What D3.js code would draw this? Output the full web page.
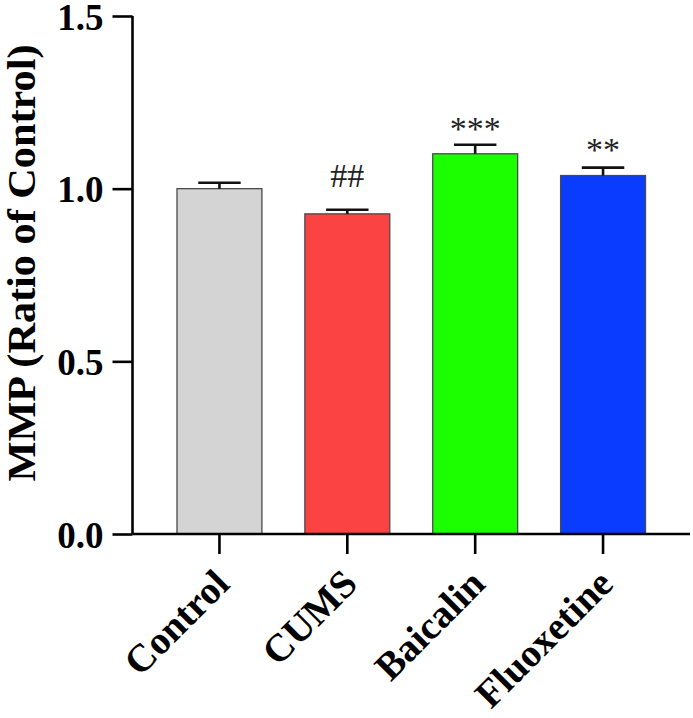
<!DOCTYPE html>
<html>
<head>
<meta charset="utf-8">
<script src="https://cdn.jsdelivr.net/npm/d3@7"></script>
<style>
  html, body { margin: 0; padding: 0; background: #fff; }
  svg { display: block; }
</style>
</head>
<body>
<svg id="chart" width="693" height="718"></svg>
<script>
const categories = ["Control", "CUMS", "Baicalin", "Fluoxetine"];
const values = [1.000, 0.927, 1.101, 1.038];
const errors = [0.017, 0.012, 0.026, 0.023];
const marks = ["", "##", "***", "**"];
const colors = ["#d4d4d4", "#fb4343", "#1cff00", "#0a3cff"];
const yTicks = [0.0, 0.5, 1.0, 1.5];

const svg = d3.select("#chart");
const serif = "'Liberation Serif', 'Times New Roman', serif";

const y = d3.scaleLinear().domain([0, 1.5]).range([534, 16]);
const x = d3.scaleBand().domain(categories).range([132.5, 690])
  .paddingInner(0.336).paddingOuter(0.348);

// bars
svg.append("g").selectAll("rect").data(categories).join("rect")
  .attr("x", d => x(d))
  .attr("y", (d, i) => y(values[i]))
  .attr("width", x.bandwidth())
  .attr("height", (d, i) => y(0) - y(values[i]))
  .attr("fill", (d, i) => colors[i])
  .attr("stroke", "#4a4a4a")
  .attr("stroke-width", 1.3);

// error bars (upper only)
const capHalf = x.bandwidth() / 4;
const eg = svg.append("g").attr("stroke", "#111").attr("stroke-width", 2.6);
categories.forEach((c, i) => {
  const cx = x(c) + x.bandwidth() / 2;
  eg.append("line").attr("x1", cx).attr("x2", cx)
    .attr("y1", y(values[i])).attr("y2", y(values[i] + errors[i]));
  eg.append("line").attr("x1", cx - capHalf).attr("x2", cx + capHalf)
    .attr("y1", y(values[i] + errors[i])).attr("y2", y(values[i] + errors[i]));
});

// significance marks
const markOffset = [0, 23, 5, 7];
svg.append("g").selectAll("text").data(categories).join("text")
  .attr("x", d => x(d) + x.bandwidth() / 2)
  .attr("y", (d, i) => y(values[i] + errors[i]) - markOffset[i])
  .attr("text-anchor", "middle")
  .attr("font-family", serif)
  .attr("font-size", 34)
  .attr("fill", "#222")
  .text((d, i) => marks[i]);

// y axis
const yAxis = svg.append("g").attr("transform", "translate(132.5,0)")
  .call(d3.axisLeft(y).tickValues(yTicks).tickFormat(d3.format(".1f")).tickSize(20).tickPadding(9));
yAxis.select(".domain").attr("stroke", "#000").attr("stroke-width", 2.6)
  .attr("d", `M0,${y(1.5)}V${y(0)}`);
yAxis.selectAll(".tick line").attr("stroke", "#000").attr("stroke-width", 2.6);
yAxis.selectAll(".tick text").attr("font-family", serif).attr("font-weight", "bold")
  .attr("font-size", 37).attr("fill", "#000").attr("dy", "0.36em");

// x axis
const xAxis = svg.append("g").attr("transform", `translate(0,${y(0)})`)
  .call(d3.axisBottom(x).tickSize(20).tickFormat(""));
xAxis.select(".domain").attr("stroke", "#000").attr("stroke-width", 2.6)
  .attr("d", "M132.5,0H690");
xAxis.selectAll(".tick line").attr("stroke", "#000").attr("stroke-width", 2.6);
xAxis.selectAll(".tick").append("text")
  .attr("transform", "translate(12,52) rotate(-45)")
  .attr("text-anchor", "end")
  .attr("font-family", serif).attr("font-weight", "bold")
  .attr("font-size", 39).attr("fill", "#000")
  .text(d => d);

// y axis title
svg.append("text")
  .attr("transform", `translate(35,${(y(0) + y(1.5)) / 2 - 12}) rotate(-90)`)
  .attr("text-anchor", "middle")
  .attr("font-family", serif).attr("font-weight", "bold")
  .attr("font-size", 40).attr("fill", "#000")
  .attr("textLength", 437).attr("lengthAdjust", "spacingAndGlyphs")
  .text("MMP (Ratio of Control)");
</script>
</body>
</html>
